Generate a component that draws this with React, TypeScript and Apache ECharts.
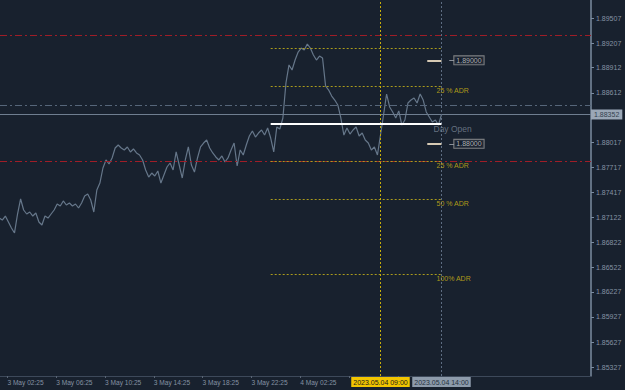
import React, { useEffect, useRef } from 'react';
import * as echarts from 'echarts';

// time is in minutes since 3 May 2023 00:00, one close every 15 minutes
const startMinute = 105;
const stepMinutes = 15;
const closePrices = [
  1.87112, 1.87088, 1.87136, 1.87064, 1.86992, 1.86933, 1.8716, 1.8734, 1.87208, 1.8716,
  1.87184, 1.87136, 1.87172, 1.87064, 1.87028, 1.87136, 1.87112, 1.8716, 1.87208, 1.8728,
  1.87256, 1.87316, 1.87268, 1.87292, 1.87256, 1.8728, 1.87232, 1.87292, 1.87376, 1.874,
  1.87328, 1.87184, 1.87448, 1.87531, 1.87711, 1.87807, 1.87759, 1.87831, 1.87951, 1.87987,
  1.87951, 1.87927, 1.87963, 1.87903, 1.87939, 1.87891, 1.87867, 1.87807, 1.87687, 1.87603,
  1.87651, 1.87615, 1.87675, 1.87531, 1.87627, 1.87723, 1.87771, 1.87687, 1.87903, 1.87747,
  1.87591, 1.87807, 1.87963, 1.87747, 1.87663, 1.87831, 1.87963, 1.8801, 1.88046, 1.87951,
  1.87891, 1.87843, 1.87807, 1.87855, 1.87783, 1.87831, 1.87927, 1.8801, 1.87735, 1.87927,
  1.87867, 1.87987, 1.88094, 1.88154, 1.88082, 1.8813, 1.88166, 1.88106, 1.8819, 1.8807,
  1.87903, 1.88202, 1.88178, 1.8831, 1.88729, 1.88945, 1.88885, 1.89004, 1.891, 1.89148,
  1.89124, 1.89196, 1.89148, 1.89064, 1.89004, 1.89052, 1.89028, 1.88693, 1.88645, 1.88573,
  1.88525, 1.88466, 1.8831, 1.88106, 1.8819, 1.88118, 1.88166, 1.88202, 1.88094, 1.8813,
  1.88046, 1.8801, 1.87927, 1.87963, 1.87867, 1.88106, 1.88346, 1.88597, 1.88442, 1.88382,
  1.8831, 1.88394, 1.88226, 1.88286, 1.88489, 1.88525, 1.88549, 1.88489, 1.88597, 1.88525,
  1.88382, 1.88322, 1.88262, 1.88286, 1.88226, 1.88352,
];

const xTickMinutes = [145, 385, 625, 865, 1105, 1345, 1585, 1825, 2065];
const xTickLabels = [
  '3 May 02:25', '3 May 06:25', '3 May 10:25', '3 May 14:25', '3 May 18:25',
  '3 May 22:25', '4 May 02:25',
];
const yTickValues = [
  1.89507, 1.89207, 1.88912, 1.88612, 1.88017, 1.87717, 1.87417,
  1.87122, 1.86822, 1.86522, 1.86227, 1.85927, 1.85627, 1.85327,
];

const currentPrice = 1.88352;
const dayOpen = 1.88238;
const redLevels = [1.89298, 1.87789];
const grayLevel = 1.8846;
const adrPrices = [1.89142, 1.88687, 1.87789, 1.87334, 1.86436];
const adrLabels = ['', '25 % ADR', '25 % ADR', '50 % ADR', '100% ADR'];
const roundPrices = [1.89, 1.88];
const vLineMinutes = [1980, 2280];
const vLineLabels = ['2023.05.04 09:00', '2023.05.04 14:00'];

const dayStartMinute = 1440;
const dayEndMinute = 2280;
const xMin = 108.7;
const xMax = 3015.3;
const yMin = 1.8522;
const yMax = 1.89723;

const BG = '#18212e';
const FONT = 'Liberation Sans, Arial, sans-serif';

export default function App() {
  const ref = useRef<HTMLDivElement>(null);

  useEffect(() => {
    if (!ref.current) return;
    const chart = echarts.init(ref.current, null, { renderer: 'svg' });

    const priceData = closePrices.map((p, i) => [startMinute + i * stepMinutes, p]);
    const dashDot = [7, 3, 2, 3];

    const seg = (x0: number, x1: number, p: number) => [{ coord: [x0, p] }, { coord: [x1, p] }];
    const vseg = (x: number) => [{ coord: [x, yMin] }, { coord: [x, yMax] }];

    const markSeries = (name: string, data: any[], lineStyle: any, label: any = { show: false }, z = 3) => ({
      type: 'line',
      name,
      data: [],
      silent: true,
      z,
      markLine: {
        silent: true,
        symbol: ['none', 'none'],
        animation: false,
        lineStyle,
        label,
        emphasis: { disabled: true },
        data,
      },
    });

    const boxLabel = (text: string, bg: string, color: string) => ({
      show: true,
      position: 'start',
      distance: 1,
      formatter: text,
      backgroundColor: bg,
      color,
      padding: [2, 2, 1, 2],
      fontSize: 7,
      fontFamily: FONT,
    });

    const adrLabelData = adrPrices
      .map((p, i) => ({ value: [dayEndMinute, p], name: adrLabels[i] }))
      .filter((d) => d.name !== '');

    chart.setOption({
      animation: false,
      backgroundColor: BG,
      grid: { left: 0, top: 0, right: 34, bottom: 14, outerBoundsMode: 'none' },
      xAxis: {
        type: 'value',
        min: xMin,
        max: xMax,
        splitLine: { show: false },
        axisLine: { show: true, lineStyle: { color: '#3d495a', width: 1 } },
        axisTick: {
          show: true,
          customValues: xTickMinutes,
          length: 2,
          lineStyle: { color: '#5a6676' },
        },
        axisLabel: {
          customValues: xTickMinutes.slice(0, xTickLabels.length),
          formatter: (v: number) => {
            const idx = xTickMinutes.indexOf(Math.round(v));
            return idx >= 0 && idx < xTickLabels.length ? xTickLabels[idx] : '';
          },
          align: 'left',
          margin: 3,
          color: '#8592a3',
          fontSize: 6.6,
          fontFamily: FONT,
        },
      },
      yAxis: {
        type: 'value',
        position: 'right',
        min: yMin,
        max: yMax,
        splitLine: { show: false },
        axisLine: { show: true, lineStyle: { color: '#7b8ca1', width: 1.5 } },
        axisTick: {
          show: true,
          customValues: yTickValues,
          length: 3,
          lineStyle: { color: '#7b8ca1' },
        },
        axisLabel: {
          customValues: yTickValues,
          formatter: (v: number) => v.toFixed(5),
          margin: 5,
          color: '#8592a3',
          fontSize: 7,
          fontFamily: FONT,
        },
      },
      series: [
        markSeries('redLevels', redLevels.map((p) => seg(xMin, xMax, p)),
          { color: '#9e1d27', type: dashDot, width: 1 }),
        markSeries('sessionLevel', [seg(xMin, xMax, grayLevel)],
          { color: '#56667a', type: dashDot, width: 1 }),
        markSeries('adrLevels', adrPrices.map((p) => seg(dayStartMinute, dayEndMinute, p)),
          { color: '#aa9b1c', type: [2, 2], width: 1 }),
        markSeries('currentPrice', [seg(xMin, xMax, currentPrice)],
          { color: '#6f7e90', type: 'solid', width: 1 },
          {
            show: true,
            position: 'end',
            distance: 0,
            formatter: currentPrice.toFixed(5),
            backgroundColor: '#9aa7b6',
            color: '#34414f',
            padding: [2, 3, 1, 3],
            fontSize: 7,
            fontFamily: FONT,
          }),
        markSeries('vLine0900', [vseg(vLineMinutes[0])],
          { color: '#c4ad0c', type: [2, 2], width: 1 },
          boxLabel(vLineLabels[0], '#f2c500', '#1a1a1a')),
        markSeries('vLine1400', [vseg(vLineMinutes[1])],
          { color: '#5d6d82', type: [2, 2], width: 1 },
          boxLabel(vLineLabels[1], '#8d9bab', '#26323f')),
        {
          type: 'line',
          name: 'EURUSD',
          data: priceData,
          showSymbol: false,
          symbol: 'none',
          lineStyle: { color: '#66778a', width: 1.2 },
          silent: true,
          z: 4,
        },
        markSeries('dayOpen', [seg(dayStartMinute, dayEndMinute, dayOpen)],
          { color: '#ffffff', type: 'solid', width: 2 }, { show: false }, 5),
        markSeries('roundMarks', roundPrices.map((p) => seg(2210, dayEndMinute, p)),
          { color: '#d6cab4', type: 'solid', width: 2 }, { show: false }, 5),
        markSeries('roundDash', roundPrices.map((p) => seg(2318, 2343, p)),
          { color: '#8a9099', type: 'solid', width: 1 }, { show: false }, 5),
        {
          type: 'scatter',
          name: 'adrText',
          data: adrLabelData,
          symbolSize: 0,
          silent: true,
          z: 6,
          label: {
            show: true,
            position: 'right',
            distance: 0,
            offset: [-5, 4],
            formatter: (p: any) => p.name,
            color: '#d6b914',
            fontSize: 7,
            fontFamily: FONT,
          },
        },
        {
          type: 'scatter',
          name: 'dayOpenText',
          data: [{ value: [dayEndMinute, dayOpen], name: 'Day Open' }],
          symbolSize: 0,
          silent: true,
          z: 6,
          label: {
            show: true,
            position: 'right',
            distance: 0,
            offset: [-8, 5],
            formatter: (p: any) => p.name,
            color: '#7a8696',
            fontSize: 8.5,
            fontFamily: FONT,
          },
        },
        {
          type: 'scatter',
          name: 'roundTags',
          data: roundPrices.map((p) => ({ value: [2343, p], name: p.toFixed(5) })),
          symbolSize: 0,
          silent: true,
          z: 6,
          label: {
            show: true,
            position: 'right',
            distance: 0,
            formatter: (p: any) => p.name,
            color: '#d4d4d4',
            backgroundColor: BG,
            borderColor: '#9a9a9a',
            borderWidth: 1,
            padding: [1, 2, 0, 2],
            fontSize: 7,
            fontFamily: FONT,
          },
        },
      ],
    });

    return () => chart.dispose();
  }, []);

  return (
    <div
      ref={ref}
      style={{ position: 'fixed', left: 0, top: 0, width: 625, height: 390 }}
    />
  );
}
